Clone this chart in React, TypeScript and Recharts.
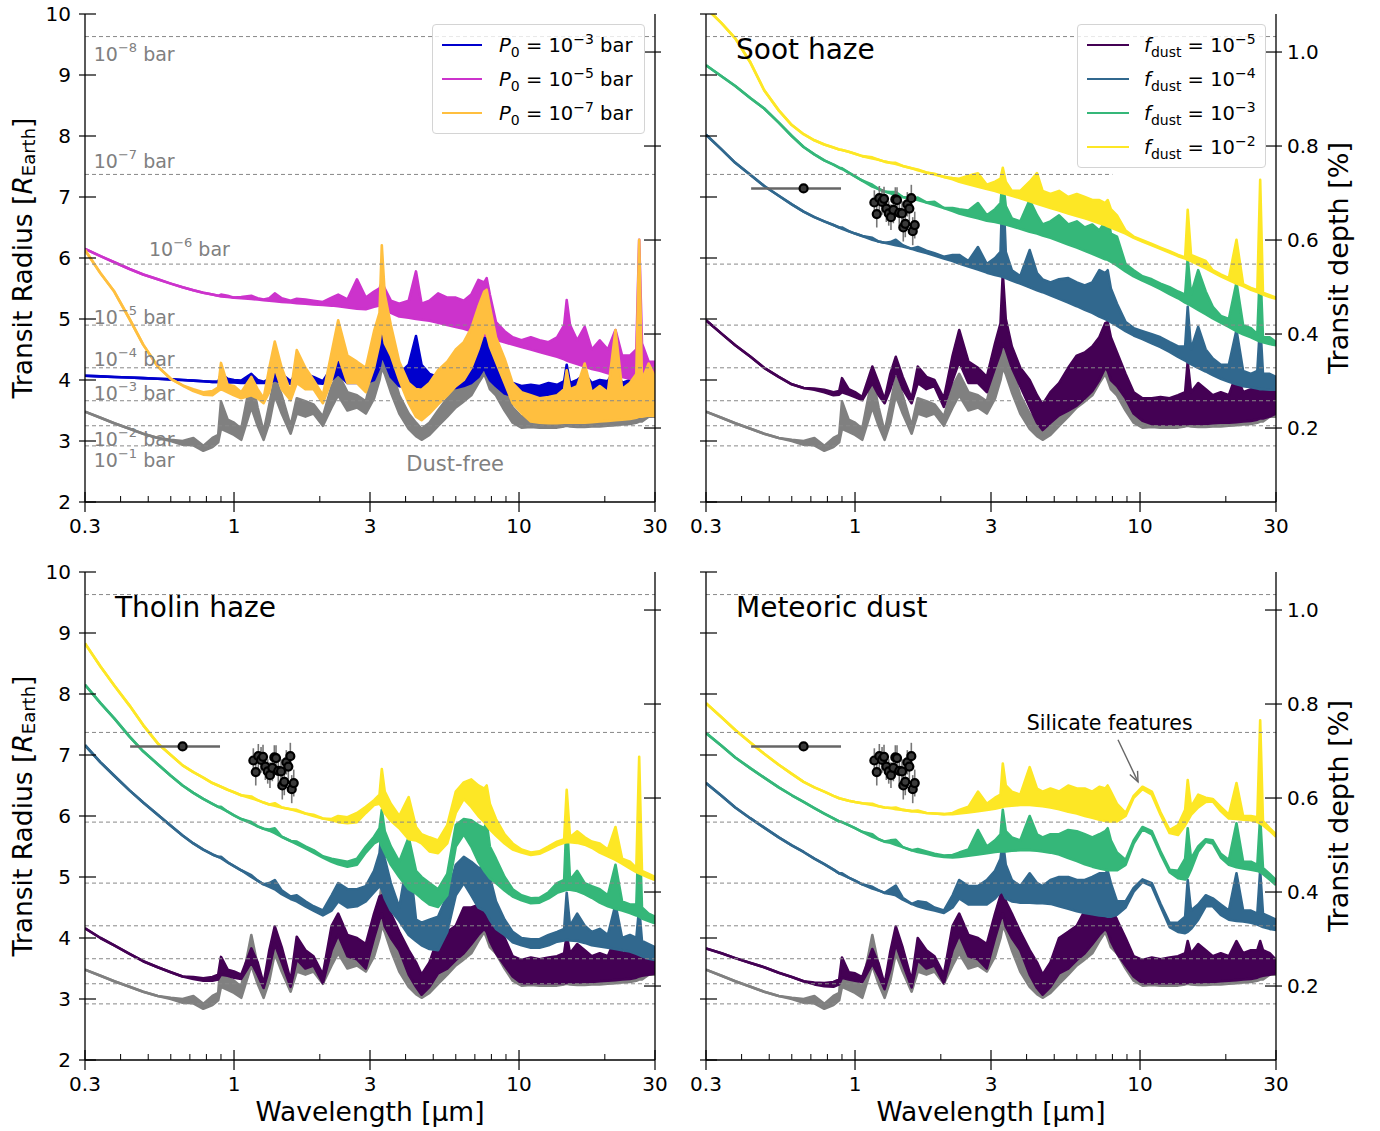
import React from "react";
import {
  ComposedChart,
  Area,
  XAxis,
  YAxis,
  ReferenceLine,
  ReferenceDot,
  Scatter,
  ErrorBar,
  Legend,
} from "recharts";

const FONT = "'DejaVu Sans', sans-serif";
const GREY = "#808080";

// wavelength grid [um]
const wl = [
  0.30, 0.34, 0.38, 0.43, 0.48, 0.54, 0.60, 0.66, 0.72, 0.78,
  0.84, 0.88, 0.90, 0.95, 1.00, 1.06, 1.15, 1.21, 1.27, 1.33,
  1.39, 1.47, 1.58, 1.66, 1.78, 1.90, 2.05, 2.20, 2.32, 2.50,
  2.70, 2.90, 3.10, 3.24, 3.30, 3.38, 3.55, 3.80, 4.10, 4.35,
  4.55, 4.85, 5.20, 5.60, 6.00, 6.40, 6.80, 7.20, 7.55, 7.70,
  7.90, 8.30, 8.90, 9.50, 10.2, 11.0, 11.8, 12.7, 13.6, 14.4,
  14.7, 15.1, 16.0, 17.0, 18.0, 19.2, 20.5, 21.8, 23.0, 24.5,
  25.8, 26.4, 27.0, 28.5, 30.0,
];

// each spectrum: lower / upper envelope of the line forest [R_Earth]
// dust-free
const freeLo = [
  3.48, 3.38, 3.29, 3.20, 3.12, 3.05, 3.00, 2.94, 2.93, 2.84,
  2.90, 2.98, 3.20, 3.15, 3.10, 3.02, 3.55, 3.25, 3.02, 3.30,
  3.75, 3.45, 3.12, 3.45, 3.40, 3.45, 3.25, 3.55, 3.75, 3.50,
  3.55, 3.45, 3.70, 4.00, 4.20, 4.10, 3.80, 3.45, 3.20, 3.08,
  3.02, 3.10, 3.25, 3.40, 3.55, 3.65, 3.75, 3.95, 4.10, 4.00,
  3.85, 3.75, 3.50, 3.30, 3.22, 3.23, 3.22, 3.22, 3.22, 3.24,
  3.25, 3.24, 3.23, 3.23, 3.24, 3.24, 3.25, 3.26, 3.27, 3.28,
  3.30, 3.32, 3.32, 3.40, 3.40,
];
const freeHi = [
  3.48, 3.38, 3.29, 3.20, 3.12, 3.05, 3.02, 3.00, 3.05, 2.92,
  3.05, 3.10, 3.65, 3.35, 3.30, 3.20, 4.05, 3.55, 3.15, 3.60,
  4.05, 3.75, 3.25, 3.70, 3.65, 3.60, 3.40, 3.90, 4.10, 3.80,
  3.75, 3.65, 4.20, 4.60, 4.90, 4.60, 4.20, 3.75, 3.45, 3.30,
  3.20, 3.30, 3.50, 3.70, 3.85, 4.00, 4.15, 4.40, 4.60, 4.70,
  4.40, 4.20, 3.90, 3.55, 3.40, 3.45, 3.40, 3.42, 3.45, 3.50,
  3.60, 3.45, 3.45, 3.45, 3.45, 3.45, 3.45, 3.50, 3.50, 3.50,
  3.55, 3.60, 3.55, 3.60, 3.65,
];

// P0 = 1e-3 bar
const p3Lo = [
  4.07, 4.06, 4.05, 4.04, 4.03, 4.02, 4.01, 4.00, 3.99, 3.98,
  3.97, 3.97, 3.96, 3.96, 3.96, 3.95, 3.95, 3.95, 3.95, 3.95,
  4.00, 3.95, 3.94, 3.95, 3.95, 3.95, 3.94, 4.00, 4.10, 3.95,
  3.95, 3.95, 4.00, 4.20, 4.40, 4.30, 4.05, 3.90, 3.88, 3.88,
  3.87, 3.86, 3.86, 3.86, 3.87, 3.90, 3.95, 4.05, 4.20, 4.10,
  4.00, 3.90, 3.78, 3.74, 3.73, 3.73, 3.73, 3.73, 3.73, 3.73,
  3.74, 3.73, 3.73, 3.73, 3.73, 3.74, 3.74, 3.75, 3.75, 3.76,
  3.77, 3.78, 3.78, 3.80, 3.82,
];
const p3Hi = [
  4.07, 4.06, 4.05, 4.04, 4.03, 4.02, 4.01, 4.00, 3.99, 3.98,
  3.97, 3.97, 4.10, 4.02, 4.00, 3.99, 4.10, 4.00, 3.97, 4.02,
  4.25, 4.10, 3.98, 4.12, 4.10, 4.05, 3.98, 4.20, 4.50, 4.20,
  4.10, 4.05, 4.40, 4.80, 5.50, 4.90, 4.50, 4.10, 4.25, 4.72,
  4.25, 4.10, 4.05, 4.15, 4.25, 4.30, 4.40, 4.60, 4.90, 5.10,
  4.70, 4.40, 4.05, 3.95, 3.90, 3.92, 3.90, 3.95, 3.92, 3.98,
  4.25, 3.95, 4.00, 4.10, 3.95, 4.00, 3.98, 4.20, 3.95, 4.00,
  4.05, 4.20, 4.00, 4.05, 4.05,
];

// P0 = 1e-5 bar
const p5Lo = [
  6.15, 6.03, 5.93, 5.82, 5.73, 5.65, 5.58, 5.52, 5.47, 5.43,
  5.40, 5.38, 5.37, 5.36, 5.35, 5.34, 5.33, 5.32, 5.31, 5.30,
  5.29, 5.28, 5.27, 5.26, 5.25, 5.24, 5.23, 5.22, 5.21, 5.19,
  5.17, 5.16, 5.20, 5.22, 5.25, 5.20, 5.10, 5.04, 5.02, 5.00,
  4.99, 4.97, 4.94, 4.90, 4.87, 4.84, 4.80, 4.76, 4.73, 4.72,
  4.70, 4.66, 4.62, 4.58, 4.54, 4.50, 4.46, 4.42, 4.38, 4.34,
  4.32, 4.30, 4.26, 4.22, 4.18, 4.15, 4.11, 4.08, 4.05, 4.02,
  4.00, 3.99, 3.98, 3.96, 3.95,
];
const p5Hi = [
  6.15, 6.03, 5.93, 5.82, 5.73, 5.65, 5.58, 5.52, 5.47, 5.43,
  5.40, 5.38, 5.40, 5.38, 5.35, 5.36, 5.38, 5.34, 5.32, 5.34,
  5.42, 5.34, 5.30, 5.33, 5.32, 5.30, 5.28, 5.35, 5.40, 5.32,
  5.65, 5.35, 5.45, 5.50, 5.60, 5.50, 5.30, 5.25, 5.30, 5.78,
  5.25, 5.30, 5.42, 5.35, 5.35, 5.30, 5.40, 5.64, 5.60, 5.67,
  5.40, 4.95, 4.80, 4.70, 4.65, 4.70, 4.65, 4.62, 4.70, 4.90,
  5.31, 4.90, 4.65, 4.87, 4.50, 4.65, 4.50, 4.82, 4.40, 4.40,
  4.50, 6.30, 4.60, 4.30, 4.30,
];

// P0 = 1e-7 bar
const p7Lo = [
  6.13, 5.75, 5.45, 5.00, 4.58, 4.22, 4.02, 3.91, 3.82, 3.76,
  3.75, 3.82, 3.85, 3.80, 3.75, 3.70, 3.75, 3.70, 3.62, 3.80,
  4.20, 3.85, 3.67, 3.95, 3.85, 3.85, 3.62, 4.00, 4.40, 3.95,
  3.95, 3.80, 4.20, 4.60, 4.90, 4.60, 4.40, 4.00, 3.62, 3.40,
  3.34, 3.45, 3.60, 3.75, 3.90, 4.00, 4.20, 4.50, 4.80, 4.75,
  4.55, 4.30, 3.95, 3.62, 3.46, 3.32, 3.30, 3.29, 3.29, 3.30,
  3.30, 3.30, 3.30, 3.30, 3.31, 3.32, 3.33, 3.34, 3.35, 3.36,
  3.38, 3.40, 3.40, 3.42, 3.41,
];
const p7Hi = [
  6.13, 5.75, 5.45, 5.00, 4.58, 4.22, 4.02, 3.91, 3.85, 3.80,
  3.82, 3.88, 4.28, 3.92, 3.90, 3.80, 4.05, 3.85, 3.70, 4.20,
  4.63, 4.20, 3.80, 4.49, 4.20, 4.00, 3.75, 4.45, 4.98, 4.40,
  4.30, 4.20, 4.80, 5.10, 6.21, 5.40, 4.90, 4.30, 3.95, 3.85,
  3.84, 3.95, 4.16, 4.30, 4.50, 4.62, 4.85, 5.20, 5.45, 5.48,
  5.20, 4.70, 4.35, 3.95, 3.80, 3.75, 3.70, 3.72, 3.75, 3.85,
  4.16, 3.85, 3.90, 4.27, 3.80, 3.90, 3.80, 4.82, 3.85, 3.95,
  4.10, 6.30, 4.00, 4.27, 4.05,
];

// soot haze, f_dust = 1e-2 .. 1e-5
const soot2Lo = [
  10.1, 9.85, 9.60, 9.20, 8.75, 8.42, 8.18, 8.03, 7.93, 7.86,
  7.81, 7.78, 7.77, 7.74, 7.71, 7.67, 7.63, 7.61, 7.58, 7.56,
  7.54, 7.51, 7.47, 7.44, 7.40, 7.37, 7.33, 7.29, 7.25, 7.21,
  7.17, 7.13, 7.10, 7.07, 7.06, 7.05, 7.02, 6.98, 6.93, 6.89,
  6.86, 6.82, 6.78, 6.73, 6.69, 6.65, 6.61, 6.57, 6.54, 6.52,
  6.50, 6.46, 6.40, 6.33, 6.27, 6.21, 6.15, 6.09, 6.03, 5.99,
  5.97, 5.95, 5.89, 5.83, 5.77, 5.70, 5.64, 5.58, 5.54, 5.48,
  5.44, 5.42, 5.40, 5.36, 5.33,
];
const soot2Hi = [
  10.1, 9.85, 9.60, 9.20, 8.75, 8.42, 8.18, 8.03, 7.93, 7.86,
  7.81, 7.78, 7.77, 7.74, 7.71, 7.67, 7.65, 7.61, 7.58, 7.56,
  7.56, 7.51, 7.47, 7.45, 7.40, 7.38, 7.33, 7.31, 7.30, 7.35,
  7.39, 7.20, 7.25, 7.30, 7.48, 7.25, 7.10, 7.10, 7.25, 7.39,
  7.10, 7.05, 7.10, 7.00, 7.05, 7.00, 6.95, 6.95, 6.90, 6.95,
  6.80, 6.70, 6.45, 6.35, 6.29, 6.23, 6.17, 6.11, 6.05, 6.01,
  6.79, 6.05, 6.00, 5.95, 5.80, 5.73, 5.67, 6.30, 5.57, 5.51,
  5.47, 7.28, 5.43, 5.39, 5.35,
];
const soot3Lo = [
  9.16, 8.98, 8.82, 8.62, 8.45, 8.22, 8.00, 7.82, 7.70, 7.60,
  7.53, 7.48, 7.46, 7.40, 7.34, 7.27, 7.17, 7.13, 7.09, 7.06,
  7.03, 7.00, 6.97, 6.95, 6.91, 6.87, 6.82, 6.77, 6.73, 6.69,
  6.65, 6.61, 6.59, 6.57, 6.56, 6.55, 6.52, 6.48, 6.43, 6.40,
  6.37, 6.33, 6.28, 6.22, 6.17, 6.12, 6.07, 6.02, 5.98, 5.97,
  5.94, 5.88, 5.78, 5.70, 5.63, 5.56, 5.49, 5.41, 5.34, 5.27,
  5.25, 5.22, 5.15, 5.08, 5.01, 4.94, 4.87, 4.80, 4.75, 4.70,
  4.65, 4.63, 4.62, 4.59, 4.57,
];
const soot3Hi = [
  9.16, 8.98, 8.82, 8.62, 8.45, 8.22, 8.00, 7.82, 7.70, 7.60,
  7.53, 7.48, 7.47, 7.40, 7.34, 7.27, 7.20, 7.13, 7.09, 7.08,
  7.08, 7.00, 6.97, 6.99, 6.91, 6.92, 6.82, 6.82, 6.80, 6.78,
  6.90, 6.70, 6.80, 6.90, 7.30, 6.85, 6.65, 6.60, 6.95, 6.70,
  6.55, 6.60, 6.70, 6.55, 6.60, 6.50, 6.55, 6.45, 6.60, 6.70,
  6.40, 6.35, 5.90, 5.80, 5.70, 5.65, 5.58, 5.52, 5.45, 5.40,
  6.00, 5.40, 5.80, 5.45, 5.20, 5.05, 5.00, 5.60, 4.90, 4.85,
  4.75, 5.90, 4.70, 4.70, 4.62,
];
const soot4Lo = [
  8.02, 7.78, 7.56, 7.36, 7.18, 7.02, 6.88, 6.76, 6.67, 6.60,
  6.54, 6.50, 6.48, 6.44, 6.40, 6.36, 6.30, 6.27, 6.25, 6.23,
  6.21, 6.19, 6.15, 6.12, 6.08, 6.04, 5.99, 5.95, 5.91, 5.86,
  5.81, 5.76, 5.72, 5.70, 5.69, 5.67, 5.63, 5.58, 5.52, 5.47,
  5.44, 5.39, 5.33, 5.27, 5.21, 5.15, 5.10, 5.04, 5.00, 4.98,
  4.95, 4.89, 4.80, 4.73, 4.67, 4.60, 4.54, 4.46, 4.38, 4.32,
  4.29, 4.26, 4.20, 4.14, 4.08, 4.02, 3.97, 3.93, 3.90, 3.88,
  3.86, 3.85, 3.85, 3.84, 3.84,
];
const soot4Hi = [
  8.02, 7.78, 7.56, 7.36, 7.18, 7.02, 6.88, 6.76, 6.67, 6.60,
  6.54, 6.50, 6.50, 6.44, 6.40, 6.36, 6.33, 6.27, 6.25, 6.26,
  6.30, 6.21, 6.15, 6.18, 6.12, 6.08, 6.02, 6.05, 6.05, 5.95,
  6.18, 5.90, 6.00, 6.10, 7.30, 6.10, 5.80, 5.70, 6.13, 5.75,
  5.65, 5.60, 5.65, 5.67, 5.60, 5.55, 5.60, 5.80, 5.75, 5.80,
  5.50, 5.25, 4.95, 4.85, 4.80, 4.75, 4.70, 4.62, 4.55, 4.55,
  5.20, 4.50, 4.87, 4.50, 4.35, 4.25, 4.25, 4.82, 4.15, 4.10,
  4.15, 4.93, 4.10, 4.10, 4.05,
];
const soot5Lo = [
  4.98, 4.76, 4.57, 4.38, 4.20, 4.05, 3.93, 3.87, 3.84, 3.80,
  3.75, 3.76, 3.80, 3.76, 3.72, 3.67, 3.95, 3.75, 3.62, 3.85,
  4.15, 3.85, 3.62, 3.95, 3.85, 3.90, 3.56, 4.00, 4.30, 3.95,
  3.95, 3.80, 4.20, 4.45, 4.60, 4.50, 4.20, 3.90, 3.56, 3.30,
  3.18, 3.30, 3.42, 3.50, 3.58, 3.70, 3.82, 4.00, 4.20, 4.15,
  4.00, 3.90, 3.70, 3.45, 3.33, 3.28, 3.27, 3.27, 3.27, 3.27,
  3.28, 3.28, 3.28, 3.28, 3.29, 3.30, 3.30, 3.31, 3.32, 3.33,
  3.35, 3.37, 3.37, 3.40, 3.45,
];
const soot5Hi = [
  4.98, 4.76, 4.57, 4.38, 4.20, 4.05, 3.93, 3.87, 3.86, 3.84,
  3.80, 3.82, 4.03, 3.85, 3.80, 3.72, 4.22, 3.95, 3.68, 4.10,
  4.38, 4.05, 3.70, 4.22, 4.05, 4.00, 3.70, 4.40, 4.82, 4.30,
  4.20, 4.05, 4.60, 4.93, 5.75, 5.00, 4.55, 4.20, 4.00, 3.75,
  3.60, 3.80, 3.95, 4.20, 4.40, 4.45, 4.55, 4.70, 4.93, 4.95,
  4.70, 4.45, 4.10, 3.80, 3.70, 3.70, 3.72, 3.70, 3.75, 3.80,
  4.30, 3.80, 3.95, 3.85, 3.75, 3.80, 3.75, 4.10, 3.80, 3.85,
  3.90, 4.20, 3.85, 3.90, 3.85,
];

// tholin haze
const thol2Lo = [
  8.83, 8.45, 8.14, 7.81, 7.49, 7.19, 7.00, 6.83, 6.72, 6.63,
  6.54, 6.50, 6.48, 6.43, 6.39, 6.34, 6.29, 6.26, 6.22, 6.19,
  6.17, 6.14, 6.11, 6.08, 6.04, 6.00, 5.96, 5.93, 5.90, 5.88,
  5.90, 6.05, 6.18, 6.20, 6.15, 6.05, 5.92, 5.80, 5.62, 5.60,
  5.55, 5.42, 5.39, 5.55, 6.05, 6.28, 6.15, 6.00, 5.90, 5.85,
  5.78, 5.68, 5.55, 5.45, 5.40, 5.36, 5.38, 5.45, 5.52, 5.56,
  5.57, 5.57, 5.56, 5.53, 5.48, 5.40, 5.34, 5.28, 5.22, 5.14,
  5.08, 5.06, 5.04, 4.99, 4.95,
];
const thol2Hi = [
  8.83, 8.45, 8.14, 7.81, 7.49, 7.19, 7.00, 6.83, 6.72, 6.63,
  6.54, 6.50, 6.48, 6.43, 6.39, 6.34, 6.32, 6.26, 6.22, 6.19,
  6.21, 6.14, 6.11, 6.10, 6.04, 6.02, 5.96, 5.95, 6.00, 5.98,
  6.05, 6.15, 6.26, 6.35, 6.77, 6.40, 6.20, 6.00, 6.31, 5.82,
  5.70, 5.65, 5.60, 5.85, 6.40, 6.55, 6.60, 6.50, 6.45, 6.50,
  6.20, 5.95, 5.70, 5.55, 5.45, 5.40, 5.42, 5.50, 5.58, 5.62,
  6.43, 5.65, 5.75, 5.65, 5.58, 5.55, 5.45, 5.82, 5.30, 5.25,
  5.15, 6.97, 5.10, 5.05, 5.00,
];
const thol3Lo = [
  8.15, 7.85, 7.60, 7.30, 7.06, 6.85, 6.66, 6.50, 6.38, 6.28,
  6.20, 6.15, 6.13, 6.07, 6.01, 5.95, 5.88, 5.83, 5.79, 5.76,
  5.72, 5.66, 5.59, 5.54, 5.47, 5.40, 5.32, 5.25, 5.21, 5.17,
  5.20, 5.40, 5.55, 5.60, 5.50, 5.40, 5.20, 5.00, 4.80, 4.73,
  4.65, 4.55, 4.51, 4.70, 5.50, 5.70, 5.50, 5.25, 5.10, 5.05,
  4.98, 4.90, 4.78, 4.68, 4.62, 4.57, 4.58, 4.65, 4.74, 4.78,
  4.79, 4.79, 4.77, 4.72, 4.66, 4.58, 4.52, 4.48, 4.45, 4.41,
  4.37, 4.35, 4.32, 4.28, 4.24,
];
const thol3Hi = [
  8.15, 7.85, 7.60, 7.30, 7.06, 6.85, 6.66, 6.50, 6.38, 6.28,
  6.20, 6.15, 6.15, 6.07, 6.01, 5.95, 5.90, 5.83, 5.79, 5.78,
  5.80, 5.66, 5.59, 5.58, 5.50, 5.44, 5.34, 5.30, 5.28, 5.25,
  5.30, 5.50, 5.66, 5.80, 6.10, 5.75, 5.50, 5.25, 5.65, 5.10,
  5.00, 4.90, 4.80, 5.05, 5.85, 5.95, 5.93, 5.85, 5.80, 5.90,
  5.50, 5.30, 5.00, 4.80, 4.70, 4.65, 4.66, 4.75, 4.90, 4.95,
  6.00, 4.95, 5.10, 4.90, 4.85, 4.80, 4.70, 5.20, 4.60, 4.55,
  4.55, 6.00, 4.50, 4.40, 4.35,
];
const thol4Lo = [
  7.16, 6.88, 6.66, 6.42, 6.22, 6.02, 5.84, 5.68, 5.55, 5.45,
  5.37, 5.33, 5.31, 5.24, 5.18, 5.11, 5.00, 4.94, 4.88, 4.84,
  4.80, 4.72, 4.64, 4.60, 4.52, 4.45, 4.37, 4.45, 4.60, 4.50,
  4.52, 4.60, 4.75, 4.85, 4.80, 4.65, 4.45, 4.28, 4.05, 3.95,
  3.88, 3.82, 3.80, 4.10, 4.70, 4.90, 4.70, 4.50, 4.45, 4.40,
  4.30, 4.15, 4.05, 3.93, 3.88, 3.84, 3.84, 3.88, 3.94, 3.96,
  3.97, 3.96, 3.95, 3.92, 3.88, 3.86, 3.84, 3.82, 3.80, 3.78,
  3.74, 3.72, 3.70, 3.66, 3.64,
];
const thol4Hi = [
  7.16, 6.88, 6.66, 6.42, 6.22, 6.02, 5.84, 5.68, 5.55, 5.45,
  5.37, 5.33, 5.33, 5.24, 5.18, 5.11, 5.03, 4.94, 4.88, 4.90,
  4.95, 4.78, 4.68, 4.70, 4.60, 4.52, 4.45, 4.70, 4.90, 4.80,
  4.80, 4.85, 5.10, 5.39, 5.80, 5.30, 4.90, 4.50, 5.40, 4.30,
  4.25, 4.30, 4.35, 4.70, 5.20, 5.33, 5.25, 5.15, 5.15, 5.30,
  5.00, 4.60, 4.30, 4.10, 4.00, 3.98, 3.98, 4.05, 4.10, 4.15,
  4.74, 4.20, 4.40, 4.20, 4.10, 4.15, 4.05, 4.55, 4.00, 4.05,
  4.00, 4.50, 3.95, 3.90, 3.85,
];
const thol5Lo = [
  4.16, 4.00, 3.88, 3.74, 3.62, 3.52, 3.44, 3.37, 3.33, 3.30,
  3.30, 3.32, 3.40, 3.38, 3.35, 3.33, 3.60, 3.40, 3.18, 3.50,
  3.90, 3.60, 3.20, 3.65, 3.50, 3.55, 3.26, 3.80, 4.05, 3.70,
  3.65, 3.50, 4.00, 4.30, 4.40, 4.19, 4.00, 3.80, 3.40, 3.20,
  3.07, 3.20, 3.42, 3.50, 3.64, 3.75, 3.90, 4.05, 4.15, 4.10,
  3.95, 3.75, 3.55, 3.37, 3.26, 3.26, 3.26, 3.26, 3.26, 3.26,
  3.27, 3.27, 3.27, 3.28, 3.28, 3.29, 3.30, 3.31, 3.32, 3.33,
  3.35, 3.37, 3.38, 3.40, 3.42,
];
const thol5Hi = [
  4.16, 4.00, 3.88, 3.74, 3.62, 3.52, 3.44, 3.37, 3.36, 3.34,
  3.36, 3.40, 3.69, 3.48, 3.45, 3.40, 3.83, 3.60, 3.25, 3.80,
  4.19, 3.85, 3.30, 4.02, 3.80, 3.70, 3.40, 4.20, 4.40, 4.05,
  4.00, 3.90, 4.40, 4.68, 4.70, 4.60, 4.40, 4.10, 3.80, 3.60,
  3.40, 3.60, 4.00, 4.10, 4.20, 4.50, 4.50, 4.54, 4.66, 4.70,
  4.55, 4.30, 4.00, 3.70, 3.64, 3.68, 3.65, 3.68, 3.70, 3.75,
  4.05, 3.75, 3.90, 3.80, 3.70, 3.75, 3.70, 4.00, 3.75, 3.80,
  3.80, 3.95, 3.80, 3.75, 3.64,
];

// meteoric dust
const met2Lo = [
  7.85, 7.62, 7.41, 7.20, 7.02, 6.84, 6.69, 6.56, 6.47, 6.40,
  6.33, 6.29, 6.28, 6.25, 6.23, 6.21, 6.18, 6.16, 6.14, 6.13,
  6.11, 6.10, 6.08, 6.07, 6.05, 6.04, 6.03, 6.03, 6.04, 6.06,
  6.08, 6.10, 6.12, 6.14, 6.15, 6.16, 6.17, 6.18, 6.18, 6.17,
  6.16, 6.14, 6.11, 6.07, 6.04, 6.00, 5.97, 5.94, 5.92, 5.91,
  5.91, 5.91, 6.00, 6.30, 6.44, 6.35, 6.02, 5.72, 5.69, 5.85,
  5.92, 6.02, 6.14, 6.23, 6.24, 6.08, 5.96, 5.95, 5.94, 5.93,
  5.90, 5.88, 5.85, 5.76, 5.66,
];
const met2Hi = [
  7.85, 7.62, 7.41, 7.20, 7.02, 6.84, 6.69, 6.56, 6.47, 6.40,
  6.33, 6.29, 6.28, 6.25, 6.23, 6.21, 6.20, 6.16, 6.14, 6.13,
  6.14, 6.10, 6.08, 6.09, 6.05, 6.04, 6.03, 6.05, 6.10, 6.15,
  6.40, 6.20, 6.30, 6.35, 6.86, 6.50, 6.40, 6.35, 6.80, 6.45,
  6.40, 6.45, 6.40, 6.50, 6.45, 6.45, 6.40, 6.48, 6.45, 6.50,
  6.40, 6.20, 6.05, 6.33, 6.48, 6.40, 6.06, 5.77, 5.85, 6.10,
  6.59, 6.15, 6.35, 6.30, 6.28, 6.15, 6.02, 6.54, 6.00, 6.00,
  5.98, 7.57, 5.92, 5.80, 5.70,
];
const met3Lo = [
  7.36, 7.15, 6.96, 6.78, 6.63, 6.47, 6.34, 6.23, 6.13, 6.04,
  5.96, 5.91, 5.90, 5.85, 5.80, 5.74, 5.66, 5.62, 5.58, 5.56,
  5.53, 5.49, 5.44, 5.41, 5.38, 5.35, 5.33, 5.32, 5.33, 5.35,
  5.37, 5.39, 5.41, 5.42, 5.42, 5.42, 5.43, 5.44, 5.44, 5.43,
  5.42, 5.40, 5.37, 5.31, 5.26, 5.21, 5.17, 5.14, 5.12, 5.11,
  5.11, 5.11, 5.20, 5.55, 5.78, 5.70, 5.38, 5.08, 4.98, 4.96,
  5.00, 5.12, 5.42, 5.58, 5.55, 5.32, 5.20, 5.16, 5.14, 5.12,
  5.10, 5.08, 5.05, 4.96, 4.87,
];
const met3Hi = [
  7.36, 7.15, 6.96, 6.78, 6.63, 6.47, 6.34, 6.23, 6.13, 6.04,
  5.96, 5.91, 5.90, 5.85, 5.80, 5.74, 5.70, 5.62, 5.58, 5.60,
  5.61, 5.49, 5.44, 5.46, 5.42, 5.38, 5.35, 5.36, 5.40, 5.45,
  5.77, 5.50, 5.60, 5.70, 6.10, 5.75, 5.65, 5.60, 6.00, 5.70,
  5.65, 5.70, 5.70, 5.77, 5.75, 5.70, 5.65, 5.70, 5.75, 5.80,
  5.60, 5.40, 5.28, 5.60, 5.82, 5.75, 5.42, 5.12, 5.10, 5.30,
  5.80, 5.30, 5.50, 5.62, 5.60, 5.38, 5.28, 5.88, 5.25, 5.25,
  5.20, 5.99, 5.15, 5.05, 4.95,
];
const met4Lo = [
  6.54, 6.33, 6.14, 5.96, 5.81, 5.65, 5.52, 5.41, 5.30, 5.21,
  5.12, 5.06, 5.04, 4.99, 4.94, 4.88, 4.81, 4.78, 4.74, 4.72,
  4.70, 4.63, 4.56, 4.52, 4.48, 4.45, 4.41, 4.50, 4.65, 4.55,
  4.55, 4.55, 4.65, 4.75, 4.75, 4.65, 4.60, 4.58, 4.58, 4.57,
  4.57, 4.56, 4.52, 4.48, 4.44, 4.41, 4.39, 4.37, 4.36, 4.35,
  4.35, 4.38, 4.50, 4.76, 4.92, 4.85, 4.52, 4.18, 4.10, 4.08,
  4.10, 4.15, 4.30, 4.52, 4.52, 4.38, 4.30, 4.28, 4.27, 4.25,
  4.22, 4.20, 4.18, 4.15, 4.13,
];
const met4Hi = [
  6.54, 6.33, 6.14, 5.96, 5.81, 5.65, 5.52, 5.41, 5.30, 5.21,
  5.12, 5.06, 5.06, 4.99, 4.94, 4.88, 4.84, 4.78, 4.74, 4.80,
  4.86, 4.66, 4.56, 4.60, 4.58, 4.50, 4.45, 4.70, 4.95, 4.85,
  4.85, 4.95, 5.10, 5.30, 5.60, 5.20, 4.95, 4.85, 5.06, 4.90,
  4.85, 4.95, 5.00, 5.00, 4.95, 4.95, 5.00, 5.06, 5.06, 5.10,
  4.90, 4.60, 4.60, 4.82, 4.96, 4.90, 4.56, 4.25, 4.25, 4.35,
  4.95, 4.45, 4.55, 4.70, 4.65, 4.55, 4.45, 5.06, 4.45, 4.45,
  4.40, 5.11, 4.40, 4.35, 4.30,
];
const met5Lo = [
  3.83, 3.75, 3.67, 3.59, 3.52, 3.43, 3.36, 3.29, 3.24, 3.21,
  3.20, 3.24, 3.35, 3.32, 3.30, 3.28, 3.58, 3.38, 3.16, 3.48,
  3.90, 3.58, 3.19, 3.64, 3.50, 3.55, 3.26, 3.80, 4.05, 3.70,
  3.65, 3.50, 4.00, 4.30, 4.40, 4.19, 4.00, 3.80, 3.40, 3.18,
  3.07, 3.20, 3.42, 3.50, 3.64, 3.75, 3.90, 4.05, 4.15, 4.10,
  3.95, 3.75, 3.55, 3.37, 3.26, 3.26, 3.26, 3.26, 3.26, 3.26,
  3.27, 3.27, 3.27, 3.28, 3.28, 3.29, 3.30, 3.31, 3.32, 3.33,
  3.35, 3.37, 3.38, 3.40, 3.42,
];
const met5Hi = [
  3.83, 3.75, 3.67, 3.59, 3.52, 3.43, 3.36, 3.29, 3.27, 3.26,
  3.28, 3.32, 3.68, 3.44, 3.42, 3.36, 3.82, 3.58, 3.24, 3.78,
  4.19, 3.84, 3.30, 4.00, 3.80, 3.70, 3.40, 4.20, 4.40, 4.05,
  4.00, 3.90, 4.40, 4.70, 4.75, 4.60, 4.40, 4.10, 3.80, 3.60,
  3.40, 3.60, 4.00, 4.10, 4.20, 4.45, 4.45, 4.41, 4.62, 4.65,
  4.50, 4.30, 4.00, 3.70, 3.64, 3.68, 3.65, 3.68, 3.70, 3.75,
  3.95, 3.75, 3.90, 3.80, 3.70, 3.75, 3.70, 3.95, 3.75, 3.80,
  3.80, 3.95, 3.80, 3.75, 3.64,
];

// pressure levels of the dust-free model
const levelR = [9.63, 7.37, 5.9, 4.9, 4.2, 3.66, 3.25, 2.92];
const levelExp = [8, 7, 6, 5, 4, 3, 2, 1];
const levelLabelW = [0.322, 0.322, 0.503, 0.322, 0.322, 0.322, 0.322, 0.322];
const levelLabelR = [9.34, 7.59, 6.15, 5.03, 4.34, 3.79, 3.03, 2.69];
const sootLevelEnd = 8.0;

// observations
const hstW = [1.169, 1.192, 1.217, 1.244, 1.264, 1.288, 1.313, 1.337, 1.363, 1.385,
  1.404, 1.43, 1.462, 1.477, 1.501, 1.526, 1.551, 1.576, 1.594, 1.62];
const hstR = [6.91, 6.72, 6.98, 6.92, 6.97, 6.81, 6.73, 6.67, 6.79, 6.96,
  6.95, 6.74, 6.73, 6.5, 6.56, 6.88, 6.81, 6.98, 6.44, 6.54];
const hstErr = [0.2, 0.22, 0.2, 0.21, 0.2, 0.22, 0.2, 0.21, 0.22, 0.2,
  0.21, 0.22, 0.2, 0.23, 0.22, 0.2, 0.21, 0.22, 0.23, 0.22];
const photW = [0.66];
const photR = [7.14];
const photErr = [[0.228, 0.233]];

// axes
const xMajor = [0.3, 1, 3, 10, 30];
const xMajorLabels = ["0.3", "1", "3", "10", "30"];
const xMinor = [0.4, 0.5, 0.6, 0.7, 0.8, 0.9, 2, 4, 5, 6, 7, 8, 9, 20];
const xTop = [1, 3, 10];
const rTicks = [2, 3, 4, 5, 6, 7, 8, 9, 10];
const depthTicks = [0.2, 0.4, 0.6, 0.8, 1.0];
const depthDomain = [0.0426, 1.0809];

// legends
const p0Exp = [3, 5, 7];
const p0Colors = ["#0000cd", "#cc33cc", "#ffbf3f"];
const fdustExp = [5, 4, 3, 2];
const fdustColors = ["#440154", "#31688e", "#35b779", "#fde725"];

const bands: Record<string, number[][]> = {
  free: [freeLo, freeHi],
  p3: [p3Lo, p3Hi], p5: [p5Lo, p5Hi], p7: [p7Lo, p7Hi],
  soot5: [soot5Lo, soot5Hi], soot4: [soot4Lo, soot4Hi], soot3: [soot3Lo, soot3Hi], soot2: [soot2Lo, soot2Hi],
  thol5: [thol5Lo, thol5Hi], thol4: [thol4Lo, thol4Hi], thol3: [thol3Lo, thol3Hi], thol2: [thol2Lo, thol2Hi],
  met5: [met5Lo, met5Hi], met4: [met4Lo, met4Hi], met3: [met3Lo, met3Hi], met2: [met2Lo, met2Hi],
};

const rows = wl.map((w, i) => {
  const r: any = { w };
  for (const k of Object.keys(bands)) r[k] = [bands[k][0][i], bands[k][1][i]];
  return r;
});
const hstRows = hstW.map((w, i) => ({ w, r: hstR[i], e: hstErr[i] }));
const photRows = photW.map((w, i) => ({ w, r: photR[i], e: photErr[i] }));

const AXIS = { stroke: "#000", strokeWidth: 1.3 };

const bottomTick = (t: any) => {
  const i = xMajor.indexOf(t.payload.value);
  if (i < 0) return <line x1={t.x} x2={t.x} y1={t.y} y2={t.y - 6} stroke="#000" strokeWidth={1} />;
  return (
    <g>
      <line x1={t.x} x2={t.x} y1={t.y - 10} y2={t.y + 10} stroke="#000" strokeWidth={1.2} />
      <text x={t.x} y={t.y + 31} textAnchor="middle" fontSize={20} fontFamily={FONT} fill="#000">
        {xMajorLabels[i]}
      </text>
    </g>
  );
};
const topTick = (t: any) => (
  <line x1={t.x} x2={t.x} y1={t.y - 10} y2={t.y + 10} stroke="#000" strokeWidth={1.2} />
);
const leftTick = (show: boolean) => (t: any) => (
  <g>
    <line x1={t.x - 6} x2={t.x + 11} y1={t.y} y2={t.y} stroke="#000" strokeWidth={1.2} />
    {show && (
      <text x={t.x - 14} y={t.y + 7} textAnchor="end" fontSize={20} fontFamily={FONT} fill="#000">
        {t.payload.value}
      </text>
    )}
  </g>
);
const rightTick = (show: boolean) => (t: any) => (
  <g>
    <line x1={t.x - 11} x2={t.x + 6} y1={t.y} y2={t.y} stroke="#000" strokeWidth={1.2} />
    {show && (
      <text x={t.x + 11} y={t.y + 7} textAnchor="start" fontSize={20} fontFamily={FONT} fill="#000">
        {Number(t.payload.value).toFixed(1)}
      </text>
    )}
  </g>
);

const radiusTitle = (p: any) => {
  const vb = p.viewBox;
  const cx = vb.x + 22;
  const cy = vb.y + vb.height / 2;
  return (
    <text x={cx} y={cy} transform={`rotate(-90 ${cx} ${cy})`} textAnchor="middle" dominantBaseline="central"
      fontSize={26.5} fontFamily={FONT} fill="#000">
      Transit Radius [<tspan fontStyle="italic">R</tspan>
      <tspan fontSize={18} dy={6}>Earth</tspan>
      <tspan dy={-6}>]</tspan>
    </text>
  );
};
const depthTitle = (p: any) => {
  const vb = p.viewBox;
  const cx = vb.x + 62;
  const cy = vb.y + vb.height / 2;
  return (
    <text x={cx} y={cy} transform={`rotate(-90 ${cx} ${cy})`} textAnchor="middle" dominantBaseline="central"
      fontSize={27} fontFamily={FONT} fill="#000">
      Transit depth [%]
    </text>
  );
};
const wavelengthTitle = (p: any) => {
  const vb = p.viewBox;
  return (
    <text x={vb.x + vb.width / 2} y={vb.y + 61} textAnchor="middle" fontSize={26.5} fontFamily={FONT} fill="#000">
      Wavelength [μm]
    </text>
  );
};

const Sub = ({ children }: any) => <span style={{ fontSize: 14, verticalAlign: -5 }}>{children}</span>;
const Sup = ({ children }: any) => <span style={{ fontSize: 14, verticalAlign: 8 }}>{children}</span>;

function LegendBox({ items, swatch, gap }: { items: { color: string; label: React.ReactNode }[]; swatch: number; gap: number }) {
  return (
    <div style={{
      boxSizing: "border-box", border: "1px solid #d4d4d4", borderRadius: 4,
      background: "rgba(255,255,255,0.8)", padding: "3px 8px 3px 9px",
      fontFamily: FONT, fontSize: 19.5, color: "#000",
    }}>
      {items.map((it, i) => (
        <div key={i} style={{ display: "flex", alignItems: "center", height: 34 }}>
          <div style={{ width: swatch, height: 0, borderTop: `2.5px solid ${it.color}`, marginRight: gap }} />
          <span style={{ whiteSpace: "nowrap" }}>{it.label}</span>
        </div>
      ))}
    </div>
  );
}

const p0Items = p0Exp.map((e, i) => ({
  color: p0Colors[i],
  label: (<><i>P</i><Sub>0</Sub> = 10<Sup>−{e}</Sup> bar</>),
}));
const fdustItems = fdustExp.map((e, i) => ({
  color: fdustColors[i],
  label: (<><i>f</i><Sub>dust</Sub> = 10<Sup>−{e}</Sup></>),
}));

const levelLabel = (i: number) => (s: any) => (
  <text x={s.cx} y={s.cy + 7} fontSize={19} fontFamily={FONT} fill={GREY}>
    10<tspan fontSize={13} dy={-9}>−{levelExp[i]}</tspan>
    <tspan dy={9}> bar</tspan>
  </text>
);
const textShape = (txt: string, color: string, size: number) => (s: any) => (
  <text x={s.cx} y={s.cy + 7} textAnchor="middle" fontSize={size} fontFamily={FONT} fill={color}>{txt}</text>
);
const arrowShape = (s: any) => {
  const { x1, y1, x2, y2 } = s;
  const a = Math.atan2(y2 - y1, x2 - x1);
  const L = 11;
  const h1x = x2 - L * Math.cos(a - 0.4), h1y = y2 - L * Math.sin(a - 0.4);
  const h2x = x2 - L * Math.cos(a + 0.4), h2y = y2 - L * Math.sin(a + 0.4);
  return (
    <g stroke="#666" strokeWidth={1.4} fill="none">
      <line x1={x1} y1={y1} x2={x2} y2={y2} />
      <polyline points={`${h1x},${h1y} ${x2},${y2} ${h2x},${h2y}`} />
    </g>
  );
};
const dotShape = (s: any) => <circle cx={s.cx} cy={s.cy} r={4} fill="#3a3a3a" stroke="#000" strokeWidth={2.2} />;

type Series = { key: string; color: string };
type PanelProps = {
  left: number; top: number; width: number; height: number; rightW: number; xH: number;
  series: Series[]; leftLabels: boolean; rightLabels: boolean; xTitle: boolean;
  levelCut?: number; showData: boolean; legend?: React.ReactNode; extras?: React.ReactNode[];
};

function Panel(p: PanelProps) {
  return (
    <div style={{ position: "absolute", left: p.left, top: p.top }}>
      <ComposedChart width={p.width} height={p.height} data={rows} margin={{ top: 14, right: 0, bottom: 0, left: 0 }}>
        <XAxis xAxisId="b" dataKey="w" type="number" scale="log" domain={[0.3, 30]} ticks={[...xMajor, ...xMinor]}
          interval={0} allowDataOverflow height={p.xH} tickSize={0} tickMargin={0} tickLine={false} axisLine={AXIS}
          tick={bottomTick} label={p.xTitle ? { content: wavelengthTitle } : undefined} />
        <XAxis xAxisId="t" orientation="top" type="number" scale="log" domain={[0.3, 30]} ticks={xTop}
          interval={0} allowDataOverflow height={0} tickSize={0} tickMargin={0} tickLine={false} axisLine={AXIS}
          tick={topTick} />
        <YAxis yAxisId="R" type="number" domain={[2, 10]} ticks={rTicks} interval={0} allowDataOverflow width={85}
          tickSize={0} tickMargin={0} tickLine={false} axisLine={AXIS} tick={leftTick(p.leftLabels)}
          label={p.leftLabels ? { content: radiusTitle } : undefined} />
        <YAxis yAxisId="D" orientation="right" type="number" domain={depthDomain} ticks={depthTicks} interval={0}
          allowDataOverflow width={p.rightW} tickSize={0} tickMargin={0} tickLine={false} axisLine={AXIS}
          tick={rightTick(p.rightLabels)} label={p.rightLabels ? { content: depthTitle } : undefined} />

        {levelR.map((r, i) =>
          p.levelCut && i === 1 ? (
            <ReferenceLine key={"lv" + i} xAxisId="b" yAxisId="R" segment={[{ x: 0.3, y: r }, { x: p.levelCut, y: r }]}
              stroke="#888" strokeWidth={1} strokeDasharray="4 3" />
          ) : (
            <ReferenceLine key={"lv" + i} xAxisId="b" yAxisId="R" y={r} stroke="#888" strokeWidth={1} strokeDasharray="4 3" />
          )
        )}
        {p.extras}

        {p.series.map((s) => (
          <Area key={s.key} xAxisId="b" yAxisId="R" type="linear" dataKey={s.key} stroke={s.color} strokeWidth={2.6}
            strokeLinejoin="round" fill={s.color} fillOpacity={1} isAnimationActive={false} dot={false}
            activeDot={false} legendType="none" />
        ))}

        {p.showData && (
          <Scatter xAxisId="b" yAxisId="R" data={photRows} dataKey="r" isAnimationActive={false} shape={dotShape} legendType="none">
            <ErrorBar dataKey="e" direction="x" width={0} stroke="#666" strokeWidth={2.5} />
          </Scatter>
        )}
        {p.showData && (
          <Scatter xAxisId="b" yAxisId="R" data={hstRows} dataKey="r" isAnimationActive={false} shape={dotShape} legendType="none">
            <ErrorBar dataKey="e" direction="y" width={0} stroke="#777" strokeWidth={1.6} />
          </Scatter>
        )}
        {p.legend}
      </ComposedChart>
    </div>
  );
}

const tlExtras = [
  ...levelR.map((_, i) => (
    <ReferenceDot key={"ll" + i} xAxisId="b" yAxisId="R" x={levelLabelW[i]} y={levelLabelR[i]} r={0} shape={levelLabel(i)} />
  )),
  <ReferenceDot key="df" xAxisId="b" yAxisId="R" x={5.97} y={2.62} r={0} shape={textShape("Dust-free", GREY, 21)} />,
];
const brExtras = [
  <ReferenceLine key="arr" xAxisId="b" yAxisId="R" segment={[{ x: 8.37, y: 7.25 }, { x: 9.84, y: 6.56 }]} shape={arrowShape} />,
  <ReferenceDot key="sil" xAxisId="b" yAxisId="R" x={7.83} y={7.52} r={0} shape={textShape("Silicate features", "#000", 20.5)} />,
];

const titleStyle: React.CSSProperties = {
  position: "absolute", fontFamily: FONT, fontSize: 28, lineHeight: "28px", color: "#000", whiteSpace: "nowrap",
};

export default function App() {
  return (
    <div style={{ position: "absolute", left: 0, top: 0, width: 1380, height: 1131, background: "#fff", overflow: "hidden" }}>
      <Panel left={0} top={0} width={690} height={550} rightW={35} xH={48}
        series={[{ key: "free", color: GREY }, { key: "p3", color: p0Colors[0] }, { key: "p5", color: p0Colors[1] }, { key: "p7", color: p0Colors[2] }]}
        leftLabels rightLabels={false} xTitle={false} showData={false} extras={tlExtras}
        legend={<Legend layout="vertical" align="center" verticalAlign="middle"
          wrapperStyle={{ left: 432, top: 24, width: 213 }}
          content={() => <LegendBox items={p0Items} swatch={40} gap={17} />} />} />
      <Panel left={621} top={0} width={759} height={550} rightW={104} xH={48}
        series={[{ key: "free", color: GREY }, { key: "soot5", color: fdustColors[0] }, { key: "soot4", color: fdustColors[1] }, { key: "soot3", color: fdustColors[2] }, { key: "soot2", color: fdustColors[3] }]}
        leftLabels={false} rightLabels xTitle={false} showData levelCut={sootLevelEnd}
        legend={<Legend layout="vertical" align="center" verticalAlign="middle"
          wrapperStyle={{ left: 456, top: 24, width: 189 }}
          content={() => <LegendBox items={fdustItems} swatch={42} gap={15} />} />} />
      <Panel left={0} top={558} width={690} height={573} rightW={35} xH={71}
        series={[{ key: "free", color: GREY }, { key: "thol5", color: fdustColors[0] }, { key: "thol4", color: fdustColors[1] }, { key: "thol3", color: fdustColors[2] }, { key: "thol2", color: fdustColors[3] }]}
        leftLabels rightLabels={false} xTitle showData />
      <Panel left={621} top={558} width={759} height={573} rightW={104} xH={71}
        series={[{ key: "free", color: GREY }, { key: "met5", color: fdustColors[0] }, { key: "met4", color: fdustColors[1] }, { key: "met3", color: fdustColors[2] }, { key: "met2", color: fdustColors[3] }]}
        leftLabels={false} rightLabels xTitle showData extras={brExtras} />

      <div style={{ ...titleStyle, left: 736, top: 36 }}>Soot haze</div>
      <div style={{ ...titleStyle, left: 115, top: 594 }}>Tholin haze</div>
      <div style={{ ...titleStyle, left: 736, top: 594 }}>Meteoric dust</div>
    </div>
  );
}
